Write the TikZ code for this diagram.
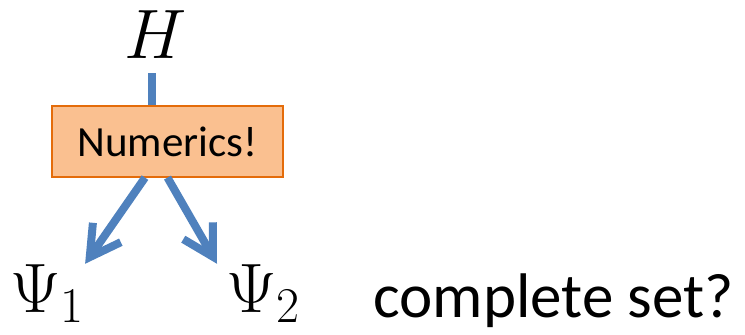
\documentclass[tikz,border=0pt]{standalone}
\usepackage{fix-cm}
\usepackage{fontspec}
\setmainfont{Carlito}
\DeclareMathSizes{35}{35}{25}{18}
\usetikzlibrary{arrows.meta, positioning}
\definecolor{flowblue}{HTML}{4F81BD}
\definecolor{boxfill}{HTML}{FAC090}
\definecolor{boxline}{HTML}{E46C0A}
\tikzset{sym/.style={inner sep=0pt,font=\fontsize{35}{40}\selectfont},numbox/.style={rectangle,draw=boxline,fill=boxfill,line width=0.6pt,minimum width=115.5pt,minimum height=35.5pt,font=\fontsize{21.5}{25}\selectfont},line/.style={draw=flowblue,line width=4pt},arrow/.style={line,-{Straight Barb[length=15pt,width=17pt]}}}

\begin{document}
\begin{tikzpicture}[x=0.5pt,y=-0.5pt]
\useasboundingbox (0,0) rectangle (745,334);
\node[sym, anchor=base] (H) at (156,58) {$H$};
\node[numbox] (num) at (167.5,141.5) {Numerics!\hspace{7pt}};
\node[sym, anchor=base west] (psiA) at (10,312) {$\Psi_1$};
\node[sym, anchor=base west] (psiB) at (226,312) {$\Psi_2$};
\node[anchor=base west, inner sep=0pt, font=\fontsize{31.5}{36}\selectfont] (ask) at (373,317) {complete set?};
\coordinate (hbar) at (152,73);
\draw[line] (hbar) -- (hbar |- num.north);
\draw[arrow] ([xshift=-11.25pt]num.south) -- (psiA.north east);
\draw[arrow] (num.south) -- ([xshift=-4.5pt]psiB.north west);
\end{tikzpicture}
\end{document}
